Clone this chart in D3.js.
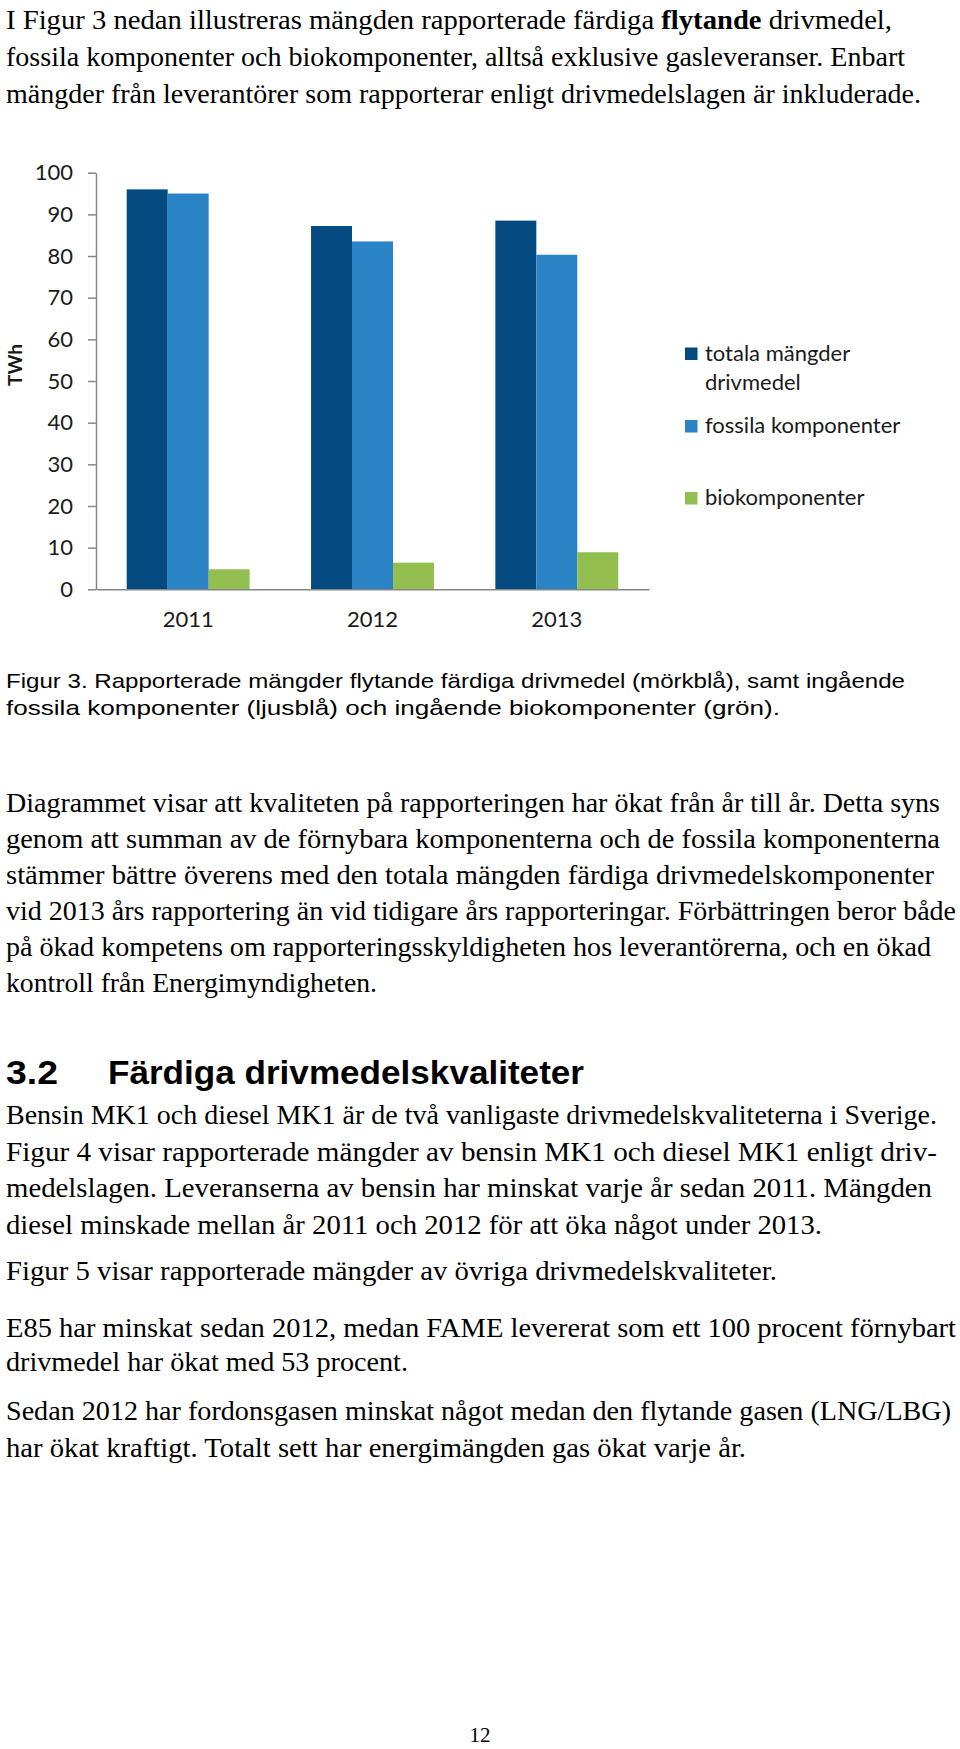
<!DOCTYPE html>
<html><head><meta charset="utf-8">
<script src="https://cdn.jsdelivr.net/npm/d3@7"></script>
<style>html,body{margin:0;padding:0;background:#fff;}svg{display:block;}</style>
</head><body>
<script>
// ---- data ----
const categories = ["2011", "2012", "2013"];
const seriesNames = ["totala mängder drivmedel", "fossila komponenter", "biokomponenter"];
const totala = [96.0, 87.2, 88.5];
const fossila = [95.0, 83.5, 80.3];
const bio = [4.8, 6.4, 8.9];
const yTicks = [0, 10, 20, 30, 40, 50, 60, 70, 80, 90, 100];
const colors = ["#024a7f", "#2983c4", "#92bf50"];

// text content
const para1 = [
  [["I Figur 3 nedan illustreras mängden rapporterade färdiga ", false], ["flytande", true], [" drivmedel,", false]],
  [["fossila komponenter och biokomponenter, alltså exklusive gasleveranser. Enbart", false]],
  [["mängder från leverantörer som rapporterar enligt drivmedelslagen är inkluderade.", false]]
];
const caption = [
  "Figur 3. Rapporterade mängder flytande färdiga drivmedel (mörkblå), samt ingående",
  "fossila komponenter (ljusblå) och ingående biokomponenter (grön)."
];
const para2 = [
  "Diagrammet visar att kvaliteten på rapporteringen har ökat från år till år. Detta syns",
  "genom att summan av de förnybara komponenterna och de fossila komponenterna",
  "stämmer bättre överens med den totala mängden färdiga drivmedelskomponenter",
  "vid 2013 års rapportering än vid tidigare års rapporteringar. Förbättringen beror både",
  "på ökad kompetens om rapporteringsskyldigheten hos leverantörerna, och en ökad",
  "kontroll från Energimyndigheten."
];
const para3 = [
  "Bensin MK1 och diesel MK1 är de två vanligaste drivmedelskvaliteterna i Sverige.",
  "Figur 4 visar rapporterade mängder av bensin MK1 och diesel MK1 enligt driv-",
  "medelslagen. Leveranserna av bensin har minskat varje år sedan 2011. Mängden",
  "diesel minskade mellan år 2011 och 2012 för att öka något under 2013."
];
const para4 = ["Figur 5 visar rapporterade mängder av övriga drivmedelskvaliteter."];
const para5 = [
  "E85 har minskat sedan 2012, medan FAME levererat som ett 100 procent förnybart",
  "drivmedel har ökat med 53 procent."
];
const para6 = [
  "Sedan 2012 har fordonsgasen minskat något medan den flytande gasen (LNG/LBG)",
  "har ökat kraftigt. Totalt sett har energimängden gas ökat varje år."
];

const W = 960, H = 1749;
const svg = d3.select("body").append("svg").attr("width", W).attr("height", H);

const serif = "'Liberation Serif', 'Times New Roman', serif";
const sans = "'Liberation Sans', Arial, sans-serif";
const chartFont = "Lato, 'Open Sans', sans-serif";

// helper: draw lines fitted to measured widths
function lines(arr, x, y0, dy, font, size, widths, weight) {
  arr.forEach((ln, i) => {
    const t = svg.append("text").attr("x", x).attr("y", y0 + i * dy)
      .attr("font-family", font).attr("font-size", size).attr("fill", "#000")
      .attr("font-weight", weight || "normal");
    if (Array.isArray(ln)) {
      ln.forEach(([s, b]) => t.append("tspan").text(s).attr("font-weight", b ? "bold" : "normal"));
    } else t.text(ln);
    if (widths && widths[i]) t.attr("textLength", widths[i]).attr("lengthAdjust", "spacingAndGlyphs");
  });
}

// paragraph 1
lines(para1, 6, 29, 37, serif, 28, [886, 899, 915]);

// ---- chart ----
const x0 = d3.scaleBand().domain(categories).range([96, 649]).paddingInner(0.333).paddingOuter(0.1667);
const x1 = d3.scaleBand().domain(d3.range(3)).range([0, x0.bandwidth()]);
const y = d3.scaleLinear().domain([0, 100]).range([589.3, 172.7]);

const data = categories.map((c, i) => ({ c, v: [totala[i], fossila[i], bio[i]] }));
const g = svg.append("g");
g.selectAll("g.grp").data(data).join("g").attr("class", "grp")
  .attr("transform", d => `translate(${x0(d.c)},0)`)
  .selectAll("rect").data(d => d.v.map((v, k) => ({ v, k }))).join("rect")
  .attr("x", d => x1(d.k)).attr("width", x1.bandwidth())
  .attr("y", d => y(d.v)).attr("height", d => y(0) - y(d.v))
  .attr("fill", d => colors[d.k]);

// y axis
const yAxis = g.append("g").attr("transform", "translate(96,0)")
  .call(d3.axisLeft(y).tickValues(yTicks).tickSize(8).tickPadding(15).tickSizeOuter(0));
yAxis.select(".domain").attr("stroke", "#868686").attr("stroke-width", 1.5);
yAxis.selectAll(".tick line").attr("stroke", "#868686").attr("stroke-width", 1.5);
yAxis.selectAll(".tick text").attr("font-family", chartFont).attr("font-size", 22).attr("fill", "#1a1a1a");

// x axis
const xAxis = g.append("g").attr("transform", `translate(0,${y(0)})`)
  .call(d3.axisBottom(x0).tickSize(0).tickPadding(22).tickSizeOuter(0));
xAxis.select(".domain").attr("stroke", "#868686").attr("stroke-width", 1.5);
xAxis.selectAll(".tick text").attr("font-family", chartFont).attr("font-size", 22).attr("fill", "#1a1a1a");

// y title
svg.append("text").attr("transform", "translate(22,365) rotate(-90)")
  .attr("text-anchor", "middle").attr("font-family", chartFont).attr("font-weight", "bold")
  .attr("font-size", 19).attr("fill", "#1a1a1a").text("TWh");

// legend
const legend = [
  { k: 0, lines: ["totala mängder", "drivmedel"], y: 360.5 },
  { k: 1, lines: ["fossila komponenter"], y: 433 },
  { k: 2, lines: ["biokomponenter"], y: 505 }
];
legend.forEach(l => {
  svg.append("rect").attr("x", 685).attr("y", l.y - 13).attr("width", 12.5).attr("height", 12.5).attr("fill", colors[l.k]);
  l.lines.forEach((s, i) => svg.append("text").attr("x", 705).attr("y", l.y + i * 29.5)
    .attr("font-family", chartFont).attr("font-size", 22).attr("fill", "#1a1a1a").text(s));
});

// caption
lines(caption, 6, 688, 27, sans, 21, [899, 774]);

// paragraph 2
lines(para2, 6, 812, 36, serif, 28, [934, 934, 928, 950, 925, 371]);

// heading
svg.append("text").attr("x", 6).attr("y", 1084).attr("font-family", sans).attr("font-weight", "bold")
  .attr("font-size", 33).attr("textLength", 52).attr("lengthAdjust", "spacingAndGlyphs").text("3.2");
svg.append("text").attr("x", 108).attr("y", 1084).attr("font-family", sans).attr("font-weight", "bold")
  .attr("font-size", 33).attr("textLength", 476).attr("lengthAdjust", "spacingAndGlyphs").text("Färdiga drivmedelskvaliteter");

// paragraph 3..6
lines(para3, 6, 1124, 36.5, serif, 28, [931, 931, 926, 816]);
lines(para4, 6, 1280, 36, serif, 28, [771]);
lines(para5, 6, 1337, 33.5, serif, 28, [950, 402]);
lines(para6, 6, 1420, 37, serif, 28, [945, 740]);

// page number
svg.append("text").attr("x", 480).attr("y", 1742).attr("text-anchor", "middle")
  .attr("font-family", serif).attr("font-size", 21).text("12");
</script>
</body></html>
